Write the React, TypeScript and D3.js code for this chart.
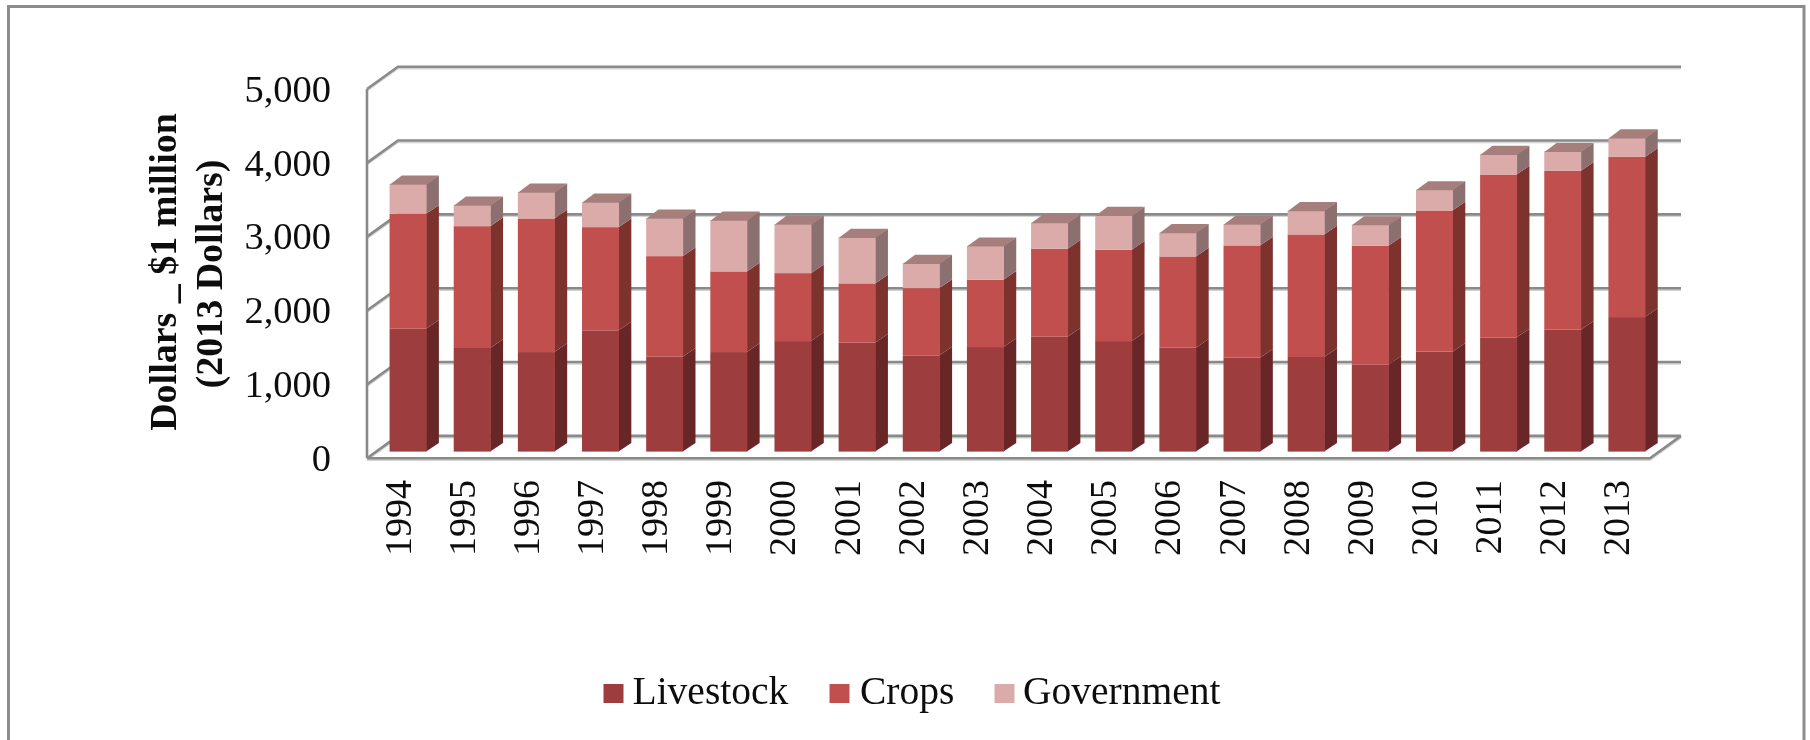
import React from "react";
import * as d3 from "d3";

const years = ["1994","1995","1996","1997","1998","1999","2000","2001","2002","2003","2004","2005","2006","2007","2008","2009","2010","2011","2012","2013"];
const livestock = [1664,1403,1348,1642,1285,1348,1497,1475,1303,1416,1556,1497,1407,1272,1281,1177,1353,1547,1651,1822];
const crops = [1556,1650,1809,1398,1362,1092,920,803,911,911,1191,1236,1236,1520,1660,1610,1912,2205,2151,2169];
const government = [401,284,356,338,514,694,663,622,334,456,351,465,320,288,320,284,280,271,261,257];
const yTicks = [0,1000,2000,3000,4000,5000];
const seriesNames = ["Livestock","Crops","Government"];
const seriesValues = [livestock, crops, government];
const frontColors = ["#9d3e3c","#c0504d","#dbaba9"];
const sideColors = ["#692727","#7e302e","#8c6f6f"];
const topColor = "#a67f7d";
const legendX = [603.5, 829.5, 994.5];
const legendTextX = [632.5, 860, 1023];

const WALL_DX = 31, WALL_DY = 22.3;
const BAR_DX = 12.3, BAR_DY = 8.7;
const BAR_SHIFT_X = 9, BAR_SHIFT_Y = 6.6;
const GRID = "#8a8a8a", SOFT = "#d4d4d4";
const FONT = "'Liberation Serif','Times New Roman',serif";

export default function App() {
  const x = d3.scaleBand<string>().domain(years).range([367, 1650]).paddingInner(0.423).paddingOuter(0.2115);
  const y = d3.scaleLinear().domain([0, 5000]).range([458.2, 89]);
  const stack = d3.stack<number>().keys([0, 1, 2] as any).value((i: number, k: any) => seriesValues[k][i]);
  const layers = stack(d3.range(years.length));
  const bw = x.bandwidth();

  return (
    <svg width={1810} height={740} viewBox="0 0 1810 740" style={{ position: "absolute", left: 0, top: 0, display: "block", background: "#fff" }}>
      <defs>
        <filter id="soft" x="-2%" y="-2%" width="104%" height="104%">
          <feGaussianBlur stdDeviation="0.6" />
        </filter>
      </defs>
      <g filter="url(#soft)">
        <path d="M8.5,740 V6.5 H1804 V740" fill="none" stroke="#8c8c8c" strokeWidth={3} />
        {yTicks.map((t) => {
          const fy = y(t);
          const d = `M367,${fy} L${367 + WALL_DX},${fy - WALL_DY} H${1650 + WALL_DX}`;
          return (
            <g key={t}>
              <path d={d} transform="translate(0,1.8)" fill="none" stroke={SOFT} strokeWidth={1.8} />
              <path d={d} fill="none" stroke={GRID} strokeWidth={2.6} />
            </g>
          );
        })}
        <line x1={367} x2={367} y1={y(5000)} y2={y(0)} stroke={GRID} strokeWidth={2.6} />
        <path d={`M367,${y(0)} H1650 L${1650 + WALL_DX},${y(0) - WALL_DY}`} fill="none" stroke={SOFT} strokeWidth={1.8} transform="translate(0,1.8)" />
        <path d={`M367,${y(0)} H1650 L${1650 + WALL_DX},${y(0) - WALL_DY}`} fill="none" stroke={GRID} strokeWidth={2.6} />

        {years.map((yr, i) => {
          const x0 = (x(yr) as number) + BAR_SHIFT_X;
          const x1 = x0 + bw;
          return (
            <g key={yr}>
              {layers.map((layer, k) => {
                const yb = y(layer[i][0]) - BAR_SHIFT_Y;
                const yt = y(layer[i][1]) - BAR_SHIFT_Y;
                return (
                  <g key={k}>
                    <polygon
                      points={`${x1 - 0.5},${yb} ${x1 + BAR_DX},${yb - BAR_DY} ${x1 + BAR_DX},${yt - BAR_DY} ${x1 - 0.5},${yt}`}
                      fill={sideColors[k]}
                    />
                    <rect x={x0} y={yt} width={bw} height={yb - yt} fill={frontColors[k]} />
                    {k === 2 && (
                      <polygon
                        points={`${x0},${yt + 0.5} ${x1},${yt + 0.5} ${x1 + BAR_DX},${yt - BAR_DY} ${x0 + BAR_DX},${yt - BAR_DY}`}
                        fill={topColor}
                      />
                    )}
                  </g>
                );
              })}
            </g>
          );
        })}

        {yTicks.map((t) => (
          <text key={t} x={331} y={y(t)} dy="0.33em" textAnchor="end" fontFamily={FONT} fontSize={38.5} fill="#111">
            {d3.format(",")(t)}
          </text>
        ))}
        {years.map((yr) => (
          <text
            key={yr}
            transform={`translate(${(x(yr) as number) + bw / 2 + 11.5},480) rotate(-90)`}
            textAnchor="end"
            fontFamily={FONT}
            fontSize={38}
            fill="#111"
          >
            {yr}
          </text>
        ))}

        <text transform="translate(175.5,272) rotate(-90)" textAnchor="middle" fontFamily={FONT} fontSize={38} fontWeight="bold" fill="#111">
          Dollars _ $1 million
        </text>
        <text transform="translate(222,274) rotate(-90)" textAnchor="middle" fontFamily={FONT} fontSize={38} fontWeight="bold" fill="#111">
          (2013 Dollars)
        </text>

        {seriesNames.map((n, k) => (
          <g key={n}>
            <rect x={legendX[k]} y={684} width={20} height={19} fill={frontColors[k]} />
            <text x={legendTextX[k]} y={704} fontFamily={FONT} fontSize={39.5} fill="#111">
              {n}
            </text>
          </g>
        ))}
      </g>
    </svg>
  );
}
